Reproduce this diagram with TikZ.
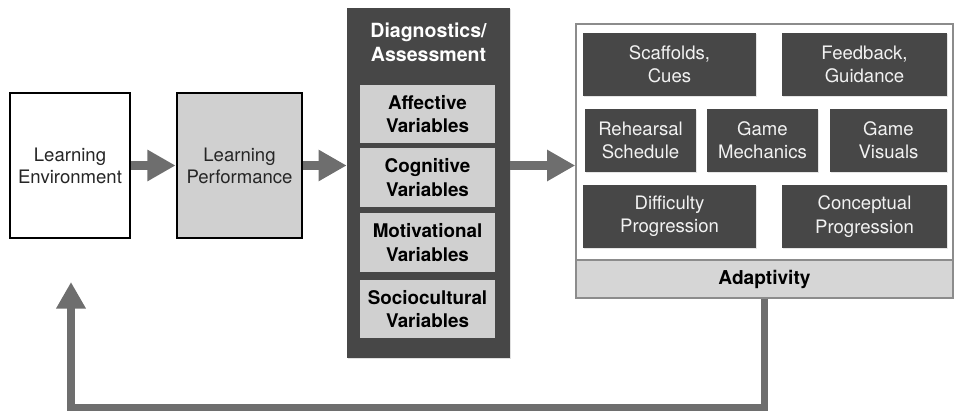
\documentclass[tikz,border=0pt]{standalone}
\usepackage{fontspec}
\setmainfont{TeX Gyre Heros}
\usetikzlibrary{arrows.meta,shadows}
\definecolor{arrowgray}{HTML}{6E6E6E}
\definecolor{darkbox}{HTML}{474747}
\definecolor{lightbox}{HTML}{D0D0D0}
\definecolor{bandgray}{HTML}{D6D6D6}
\definecolor{framegray}{HTML}{8C8C8C}
\begin{document}
\begin{tikzpicture}[x=0.025cm, y=-0.025cm,
  stage/.style={draw, line width=2pt, minimum height=3.625cm, align=center, text=black!85,
    font=\fontsize{13.2}{15.6}\selectfont, drop shadow={opacity=0.25, shadow xshift=1pt, shadow yshift=-1pt}},
  varbox/.style={fill=lightbox, minimum width=3.375cm, minimum height=1.45cm, align=center,
    font=\fontsize{13.4}{16.5}\selectfont\bfseries},
  adaptbox/.style={fill=darkbox, minimum height=1.575cm, align=center, text=black!5,
    font=\fontsize{13.2}{16.5}\selectfont, drop shadow={opacity=0.2, shadow xshift=0.6pt, shadow yshift=-0.6pt}},
  flow/.style={draw=arrowgray, line width=6.4pt, -{Triangle[length=20pt, width=21pt]}},
  feedback/.style={draw=arrowgray, line width=5pt, -{Triangle[length=19pt, width=20pt]}}]
\useasboundingbox (0,0) rectangle (955,412);
\node[stage, fill=white, minimum width=3cm] (le) at (70,165.5) {Learning\\Environment};
\node[stage, fill=lightbox, minimum width=3.125cm] (lp) at (239.5,165.5) {Learning\\Performance};
\node[fill=darkbox, minimum width=4.075cm, minimum height=8.75cm,
  drop shadow={opacity=0.25, shadow xshift=1pt, shadow yshift=-1pt}] (diag) at (428.5,183) {};
\node[text=white, align=center, font=\fontsize{13.9}{17}\selectfont\bfseries] (diagtitle) at (428.5,42) {Diagnostics/\\Assessment};
\node[varbox] (aff) at (427.5,114) {Affective\\Variables};
\node[varbox] (cog) at (427.5,177.5) {Cognitive\\Variables};
\node[varbox] (mot) at (427.5,242.5) {Motivational\\Variables};
\node[varbox] (soc) at (427.5,309) {Sociocultural\\Variables};
\node[draw=framegray, line width=1pt, fill=white, minimum width=9.425cm, minimum height=6.85cm,
  drop shadow={opacity=0.2, shadow xshift=1pt, shadow yshift=-1pt}] (adapt) at (764.5,161) {};
\node[draw=framegray, line width=1pt, fill=bandgray, minimum width=9.425cm, minimum height=0.95cm,
  font=\fontsize{13.6}{16}\selectfont\bfseries] (band) at (764.5,279) {Adaptivity};
\node[adaptbox, minimum width=4.325cm] (scaf) at (669.5,64.5) {Scaffolds,\\Cues};
\node[adaptbox, minimum width=4.125cm] (feed) at (864.5,64.5) {Feedback,\\Guidance};
\node[adaptbox, minimum width=2.775cm] (reh) at (640.5,140.5) {Rehearsal\\Schedule};
\node[adaptbox, minimum width=2.775cm] (mech) at (762.5,140.5) {Game\\Mechanics};
\node[adaptbox, minimum width=2.925cm] (vis) at (888.5,140.5) {Game\\Visuals};
\node[adaptbox, minimum width=4.325cm] (diff) at (669.5,216.5) {Difficulty\\Progression};
\node[adaptbox, minimum width=4.125cm] (conc) at (864.5,216.5) {Conceptual\\Progression};
\coordinate (fb) at (71,282);
\draw[flow] (le) -- (lp);
\draw[flow] (lp) -- (lp -| diag.west);
\draw[flow] (diag.east |- lp) -- (adapt.west |- lp);
\draw[feedback] (band.south) -- ++(0,109) -| (fb);
\end{tikzpicture}
\end{document}
